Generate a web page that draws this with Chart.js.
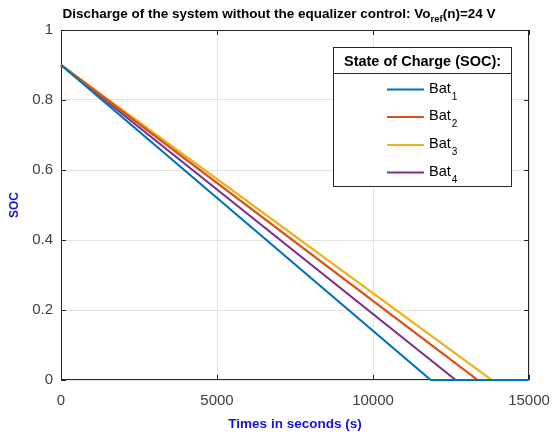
<!DOCTYPE html>
<html>
<head>
<meta charset="utf-8">
<script src="https://cdn.jsdelivr.net/npm/chart.js@4/dist/chart.umd.min.js"></script>
<style>
  html, body { margin: 0; padding: 0; background: #ffffff; }
  #wrap { width: 552px; height: 432px; }
</style>
</head>
<body>
<div id="wrap"><canvas id="c" width="552" height="432"></canvas></div>
<script>
// Battery discharge curves: time (s) and state of charge per battery
const bat1Time = [0, 11850, 15000];
const bat1Soc  = [0.9, 0, 0];
const bat2Time = [0, 13350, 15000];
const bat2Soc  = [0.9, 0, 0];
const bat3Time = [0, 13800, 15000];
const bat3Soc  = [0.9, 0, 0];
const bat4Time = [0, 12650, 15000];
const bat4Soc  = [0.9, 0, 0];

const batLabels = ['1', '2', '3', '4'];
const batColors = ['#0072BD', '#D95319', '#EDB120', '#7E2F8E'];

const xTicks = [0, 5000, 10000, 15000];
const yTicks = [0, 0.2, 0.4, 0.6, 0.8, 1];

const chartTitle = 'Discharge of the system without the equalizer control: Vo';
const chartTitleSub = 'ref';
const chartTitleTail = '(n)=24 V';
const legendHeader = 'State of Charge (SOC):';
const xTitle = 'Times in seconds (s)';
const yTitle = 'SOC';

const FONT = '"Liberation Sans", Arial, Helvetica, sans-serif';
const AXIS_COLOR = '#262626';
const LABEL_BLUE = '#1414d2';

const times = [bat1Time, bat2Time, bat3Time, bat4Time];
const socs = [bat1Soc, bat2Soc, bat3Soc, bat4Soc];

const datasets = times.map((t, i) => ({
  label: 'Bat' + batLabels[i],
  data: t.map((x, j) => ({ x: x, y: socs[i][j] })),
  borderColor: batColors[i],
  backgroundColor: batColors[i],
  borderWidth: 2.2,
  pointRadius: 0,
  tension: 0,
  fill: false,
  clip: false
}));

// Axes box with inward tick marks, drawn beneath the curves
const boxPlugin = {
  id: 'box',
  beforeDatasetsDraw(chart) {
    const { ctx, chartArea: a, scales } = chart;
    ctx.save();
    ctx.strokeStyle = AXIS_COLOR;
    ctx.lineWidth = 1;
    ctx.strokeRect(Math.round(a.left) + 0.5, Math.round(a.top) + 0.5,
                   Math.round(a.right - a.left) - 1, Math.round(a.bottom - a.top) - 1);
    const tl = 5;
    ctx.beginPath();
    xTicks.forEach(v => {
      const px = Math.round(scales.x.getPixelForValue(v)) + 0.5;
      ctx.moveTo(px, a.bottom); ctx.lineTo(px, a.bottom - tl);
      ctx.moveTo(px, a.top); ctx.lineTo(px, a.top + tl);
    });
    yTicks.forEach(v => {
      const py = Math.round(scales.y.getPixelForValue(v)) + 0.5;
      ctx.moveTo(a.left, py); ctx.lineTo(a.left + tl, py);
      ctx.moveTo(a.right, py); ctx.lineTo(a.right - tl, py);
    });
    ctx.stroke();
    ctx.restore();
  }
};

// Title with subscript and the boxed legend
const textPlugin = {
  id: 'texts',
  afterDraw(chart) {
    const ctx = chart.ctx;
    ctx.save();
    ctx.fillStyle = '#000000';
    ctx.textBaseline = 'alphabetic';
    ctx.textAlign = 'left';

    // Title
    const mainFont = 'bold 13.5px ' + FONT;
    const subFont = 'bold 9.5px ' + FONT;
    ctx.font = mainFont;
    const w1 = ctx.measureText(chartTitle).width;
    const w3 = ctx.measureText(chartTitleTail).width;
    ctx.font = subFont;
    const w2 = ctx.measureText(chartTitleSub).width;
    const total = w1 + w2 + w3;
    let x = 279 - total / 2;
    ctx.font = mainFont;
    ctx.fillText(chartTitle, x, 18);
    x += w1;
    ctx.font = subFont;
    ctx.fillText(chartTitleSub, x, 22);
    x += w2;
    ctx.font = mainFont;
    ctx.fillText(chartTitleTail, x, 18);

    // Legend box
    const L = 333, R = 512, T = 47, B = 187;
    ctx.fillStyle = '#ffffff';
    ctx.fillRect(L, T, R - L, B - T);
    ctx.strokeStyle = AXIS_COLOR;
    ctx.lineWidth = 1;
    ctx.strokeRect(L + 0.5, T + 0.5, R - L - 1, B - T - 1);
    ctx.beginPath();
    ctx.moveTo(L, 73.5); ctx.lineTo(R, 73.5);
    ctx.stroke();

    ctx.fillStyle = '#000000';
    ctx.font = 'bold 14.5px ' + FONT;
    ctx.textAlign = 'center';
    ctx.fillText(legendHeader, (L + R) / 2, 66);

    const rowY = [89.5, 117, 145, 172.5];
    ctx.textAlign = 'left';
    batLabels.forEach((s, i) => {
      const y = rowY[i];
      ctx.strokeStyle = batColors[i];
      ctx.lineWidth = 2.2;
      ctx.beginPath();
      ctx.moveTo(387, y); ctx.lineTo(424, y);
      ctx.stroke();
      ctx.fillStyle = '#000000';
      ctx.font = '14.5px ' + FONT;
      ctx.fillText('Bat', 429, y + 3);
      const bw = ctx.measureText('Bat').width;
      ctx.font = '10px ' + FONT;
      ctx.fillText(s, 429 + bw + 1, y + 10);
    });
    ctx.restore();
  }
};

new Chart(document.getElementById('c'), {
  type: 'line',
  data: { datasets: datasets },
  options: {
    responsive: false,
    animation: false,
    layout: { padding: { left: 0, right: 23, top: 30, bottom: 0 } },
    plugins: {
      legend: { display: false },
      title: { display: false },
      tooltip: { enabled: false }
    },
    scales: {
      x: {
        type: 'linear',
        min: 0,
        max: 15000,
        afterBuildTicks: s => { s.ticks = xTicks.map(v => ({ value: v })); },
        afterFit: s => { s.height = 52; s.paddingLeft = 0; s.paddingRight = 0; },
        ticks: {
          color: '#404040',
          font: { family: FONT, size: 15 },
          padding: 12,
          maxRotation: 0,
          callback: v => String(v)
        },
        grid: { color: '#e3e3e3', lineWidth: 1, drawTicks: false },
        border: { display: false },
        title: {
          display: true,
          text: xTitle,
          color: LABEL_BLUE,
          font: { family: FONT, size: 13.5, weight: 'bold' },
          padding: { top: 7, bottom: 0 }
        }
      },
      y: {
        type: 'linear',
        min: 0,
        max: 1,
        afterBuildTicks: s => { s.ticks = yTicks.map(v => ({ value: v })); },
        afterFit: s => { s.width = 61; s.paddingTop = 0; s.paddingBottom = 0; },
        ticks: {
          color: '#404040',
          font: { family: FONT, size: 15 },
          padding: 8,
          callback: v => String(Math.round(v * 10) / 10)
        },
        grid: { color: '#e3e3e3', lineWidth: 1, drawTicks: false },
        border: { display: false },
        title: {
          display: true,
          text: yTitle,
          color: LABEL_BLUE,
          font: { family: FONT, size: 12, weight: 'bold' },
          padding: { top: 7, bottom: 0 }
        }
      }
    }
  },
  plugins: [boxPlugin, textPlugin]
});
</script>
</body>
</html>
